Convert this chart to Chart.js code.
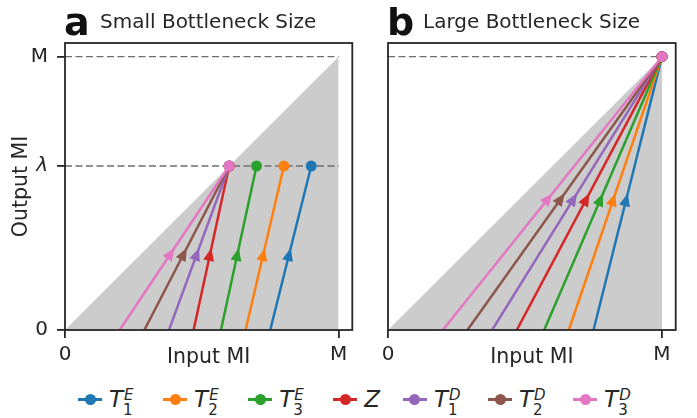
<!DOCTYPE html>
<html>
<head>
<meta charset="utf-8">
<script src="https://cdn.jsdelivr.net/npm/chart.js@4.4.1/dist/chart.umd.min.js"></script>
<style>
  body { margin: 0; background: #fff; font-family: "DejaVu Sans", sans-serif; color: #262626; }
  #wrap { position: relative; width: 697px; height: 418px; overflow: hidden; }
  #chartA { position: absolute; left: 0; top: 0; }
  #chartB { position: absolute; left: 360px; top: 0; }
  #legend { position: absolute; left: 78px; top: 385px; height: 28px; display: flex; align-items: center; gap: 30px; }
  .item { display: flex; align-items: center; gap: 7px; }
  .item.plain { margin-right: -7px; }
  .handle { position: relative; width: 24px; height: 11px; }
  .handle::before { content: ''; position: absolute; left: 0; right: 0; top: 4px; height: 3px; background: var(--c); }
  .handle::after { content: ''; position: absolute; left: 6.5px; top: 0; width: 11px; height: 11px; border-radius: 50%; background: var(--c); }
  .lab { position: relative; font-size: 23px; line-height: 28px; white-space: nowrap; }
  .lab i { font-style: italic; }
  .ss { display: inline-block; position: relative; width: 10px; height: 28px; vertical-align: top; }
  .ss .sup { position: absolute; left: 1px; top: -4px; font-size: 15px; font-style: italic; }
  .ss .sub { position: absolute; left: 0; top: 11px; font-size: 15px; }
</style>
</head>
<body>
<div id="wrap">
  <canvas id="chartA" width="360" height="370"></canvas>
  <canvas id="chartB" width="337" height="370"></canvas>
  <div id="legend"></div>
</div>
<script>
// series: T1E, T2E, T3E, Z, T1D, T2D, T3D
const legendBase = ['T', 'T', 'T', 'Z', 'T', 'T', 'T'];
const legendSub = ['1', '2', '3', '', '1', '2', '3'];
const legendSup = ['E', 'E', 'E', '', 'D', 'D', 'D'];
const colores = ['#1f77b4', '#ff7f0e', '#2ca02c', '#d62728', '#9467bd', '#8c564b', '#e377c2'];

const lambda = 0.6;
// input MI where each arrow starts (output MI = 0)
const startX = [0.75, 0.66, 0.57, 0.47, 0.38, 0.29, 0.20];
// small bottleneck: end points
const smallEndX = [0.90, 0.80, 0.70, 0.60, 0.60, 0.60, 0.60];
const smallEndY = [0.60, 0.60, 0.60, 0.60, 0.60, 0.60, 0.60];
// large bottleneck: end points
const largeEndX = [1, 1, 1, 1, 1, 1, 1];
const largeEndY = [1, 1, 1, 1, 1, 1, 1];

const xTickVals = [0, 1];
const xTickLabels = ['0', 'M'];
const yTickVals = [0, lambda, 1];
const yTickLabels = ['0', 'λ', 'M'];

const family = '"DejaVu Sans", sans-serif';
const ink = '#262626';

// arrows, box and panel titles
const panelPlugin = {
  id: 'panel',
  afterDatasetDraw(chart, args) {
    const ds = chart.data.datasets[args.index];
    if (!ds.arrow) return;
    const a = args.meta.data[0], b = args.meta.data[1];
    const mx = (a.x + b.x) / 2, my = (a.y + b.y) / 2;
    const ang = Math.atan2(b.y - a.y, b.x - a.x);
    const L = 13, W = 5.5;
    const c = Math.cos(ang), s = Math.sin(ang);
    const ctx = chart.ctx;
    ctx.save();
    ctx.fillStyle = ds.borderColor;
    ctx.beginPath();
    ctx.moveTo(mx, my);
    ctx.lineTo(mx - L * c - W * s, my - L * s + W * c);
    ctx.lineTo(mx - L * c + W * s, my - L * s - W * c);
    ctx.closePath();
    ctx.fill();
    ctx.restore();
  },
  afterDraw(chart, args, opts) {
    const { ctx, chartArea: ca } = chart;
    ctx.save();
    ctx.strokeStyle = ink;
    ctx.lineWidth = 1.8;
    ctx.strokeRect(ca.left, ca.top, ca.right - ca.left, ca.bottom - ca.top);
    ctx.textBaseline = 'alphabetic';
    ctx.fillStyle = '#111';
    ctx.font = 'bold 38px ' + family;
    ctx.fillText(opts.letter, opts.letterX, 35);
    ctx.fillStyle = ink;
    ctx.font = '20px ' + family;
    ctx.fillText(opts.text, opts.textX, 28);
    ctx.restore();
  }
};

function buildDatasets(endX, endY, showLambda) {
  const ds = [];
  colores.forEach((col, i) => {
    ds.push({
      data: [{ x: startX[i], y: 0 }, { x: endX[i], y: endY[i] }],
      borderColor: col,
      backgroundColor: col,
      borderWidth: 2.5,
      pointRadius: [0, 5.5],
      pointBorderWidth: 0,
      pointBackgroundColor: col,
      arrow: true,
      order: 7 - i
    });
  });
  // dashed guides
  ds.push({
    data: [{ x: 0, y: 1 }, { x: 1, y: 1 }],
    borderColor: '#6e6e6e', borderWidth: 1.3, borderDash: [7, 3.5],
    pointRadius: 0, order: 50
  });
  if (showLambda) {
    ds.push({
      data: [{ x: 0, y: lambda }, { x: 1, y: lambda }],
      borderColor: '#6e6e6e', borderWidth: 1.3, borderDash: [7, 3.5],
      pointRadius: 0, order: 50
    });
  }
  // feasible region below output = input
  ds.push({
    data: [{ x: 0, y: 0 }, { x: 1, y: 1 }],
    fill: 'origin',
    backgroundColor: '#cccccc',
    borderWidth: 0,
    pointRadius: 0,
    order: 100
  });
  return ds;
}

function xScale() {
  return {
    type: 'linear', min: 0, max: 1.05,
    afterBuildTicks: ax => { ax.ticks = xTickVals.map(v => ({ value: v })); },
    afterFit: ax => { ax.height = 40; },
    ticks: {
      callback: (v, i) => xTickLabels[i],
      font: { family: family, size: 20 }, color: ink,
      padding: 5, maxRotation: 0, autoSkip: false
    },
    grid: { drawOnChartArea: false, tickLength: 8, color: ink, lineWidth: 1.8 },
    border: { display: false },
    title: {
      display: true, text: 'Input MI', color: ink,
      font: { family: family, size: 20.5 }, padding: { top: 0, bottom: 0.5 }
    }
  };
}

function makeChart(id, endX, endY, showLambda, panel, padRight, showY, yWidth) {
  const yScale = {
    type: 'linear', min: 0, max: 1.05,
    display: showY,
    afterBuildTicks: ax => { ax.ticks = yTickVals.map(v => ({ value: v })); },
    afterFit: ax => { ax.width = yWidth; },
    ticks: {
      callback: (v, i) => yTickLabels[i],
      font: ctx => ({ family: family, size: 20, style: ctx.index === 1 ? 'italic' : 'normal' }),
      color: ink, padding: 9
    },
    grid: { drawOnChartArea: false, tickLength: 8, color: ink, lineWidth: 1.8 },
    border: { display: false },
    title: {
      display: true, text: 'Output MI', color: ink,
      font: { family: family, size: 20.5 }, padding: { top: 9, bottom: 0 }
    }
  };
  return new Chart(document.getElementById(id), {
    type: 'line',
    data: { datasets: buildDatasets(endX, endY, showLambda) },
    options: {
      responsive: false,
      animation: false,
      layout: { padding: { top: 43, right: padRight, bottom: 0, left: 0 } },
      scales: { x: xScale(), y: yScale },
      plugins: {
        legend: { display: false },
        tooltip: { enabled: false },
        panel: panel
      }
    },
    plugins: [panelPlugin]
  });
}

makeChart('chartA', smallEndX, smallEndY, true,
  { letter: 'a', text: 'Small Bottleneck Size', letterX: 64, textX: 100 }, 7.7, true, 65);
makeChart('chartB', largeEndX, largeEndY, false,
  { letter: 'b', text: 'Large Bottleneck Size', letterX: 27, textX: 63 }, 21.3, false, 28);

// custom legend
const leyenda = document.getElementById('legend');
colores.forEach((col, i) => {
  const div = document.createElement('div');
  div.className = 'item';
  let script = '';
  if (legendSub[i] || legendSup[i]) {
    script = `<span class="ss"><span class="sup">${legendSup[i]}</span><span class="sub">${legendSub[i]}</span></span>`;
  } else {
    div.className = 'item plain';
  }
  div.innerHTML = `
    <span class="handle" style="--c:${col}"></span>
    <span class="lab"><i>${legendBase[i]}</i>${script}</span>
  `;
  leyenda.appendChild(div);
});
</script>
</body>
</html>
